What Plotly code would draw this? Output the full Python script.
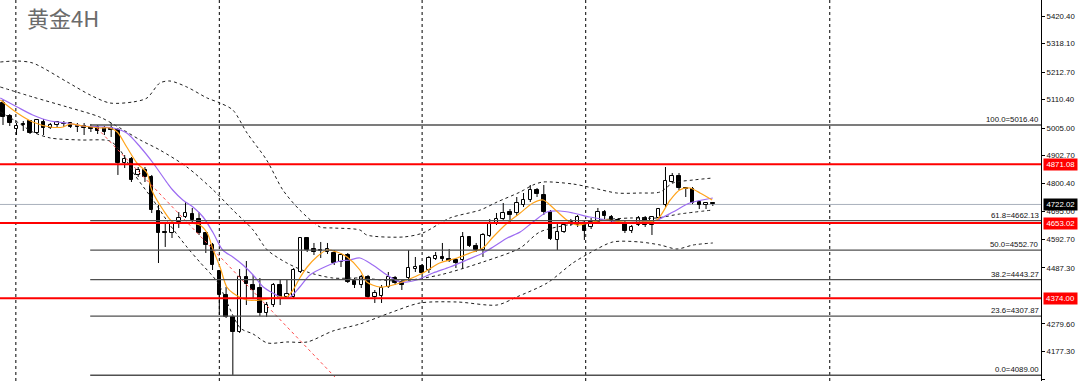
import plotly.graph_objects as go

# ---------------- data ----------------
title_text = "黄金4H"

opens = [5098.0, 5049.8, 5001.7, 5020.2, 5031.3, 4986.8, 5027.6, 5005.4, 5016.5, 5020.2,
         5023.9, 5012.8, 5012.8, 5009.1, 5009.1, 5005.4, 5005.4, 4997.9, 4875.6, 4890.5,
         4831.2, 4849.7, 4823.8, 4697.7, 4619.9, 4616.2, 4657.0, 4675.5, 4686.6, 4668.1,
         4616.2, 4571.8, 4475.4, 4386.5, 4305.0, 4249.4, 4453.2, 4423.5, 4412.4, 4319.8,
         4349.4, 4423.5, 4379.1, 4379.1, 4471.7, 4597.7, 4556.9, 4553.2, 4545.8, 4542.1,
         4508.7, 4534.7, 4438.3, 4423.5, 4453.2, 4379.1, 4382.8, 4416.1, 4449.4, 4434.6,
         4449.4, 4482.8, 4493.9, 4479.1, 4519.9, 4527.3, 4519.9, 4516.1, 4516.1, 4601.4,
         4568.1, 4553.2, 4605.1, 4653.3, 4668.1, 4694.0, 4690.3, 4720.0, 4738.5, 4775.5,
         4757.0, 4694.0, 4590.3, 4619.9, 4649.6, 4645.9, 4653.3, 4638.5, 4657.0, 4694.0,
         4675.5, 4664.4, 4653.3, 4623.6, 4645.9, 4671.8, 4645.9, 4671.8, 4720.0, 4805.2,
         4827.5, 4783.0, 4779.3, 4731.1, 4720.0, 4727.4]
highs = [5109.1, 5057.2, 5023.9, 5031.3, 5035.0, 5038.7, 5038.7, 5023.9, 5031.3, 5031.3,
         5027.6, 5023.9, 5023.9, 5020.2, 5016.5, 5012.8, 5023.9, 5005.4, 4905.3, 4897.9,
         4860.8, 4860.8, 4831.2, 4720.0, 4653.3, 4657.0, 4694.0, 4731.1, 4708.9, 4694.0,
         4619.9, 4579.2, 4479.1, 4416.1, 4307.0, 4482.8, 4512.4, 4460.6, 4449.4, 4360.5,
         4430.9, 4442.0, 4445.7, 4486.5, 4601.4, 4601.4, 4579.2, 4582.9, 4579.2, 4553.2,
         4542.1, 4542.1, 4449.4, 4460.6, 4460.6, 4405.0, 4423.5, 4471.7, 4456.9, 4442.0,
         4553.2, 4527.3, 4501.3, 4531.0, 4545.8, 4579.2, 4556.9, 4523.6, 4619.9, 4605.1,
         4579.2, 4616.2, 4668.1, 4690.3, 4727.4, 4705.1, 4749.6, 4764.4, 4794.1, 4783.0,
         4794.1, 4701.4, 4653.3, 4657.0, 4668.1, 4682.9, 4664.4, 4671.8, 4708.9, 4701.4,
         4682.9, 4671.8, 4664.4, 4645.9, 4679.2, 4679.2, 4679.2, 4708.9, 4860.8, 4838.6,
         4838.6, 4786.7, 4786.7, 4738.5, 4731.1, 4731.1]
lows = [5016.5, 5012.8, 4979.4, 4994.2, 4983.1, 4983.1, 4979.4, 5001.7, 5009.1, 5009.1,
        5005.4, 4990.5, 4979.4, 4990.5, 4983.1, 4979.4, 4972.0, 4831.2, 4857.1, 4805.2,
        4823.8, 4805.2, 4690.3, 4505.0, 4564.4, 4597.7, 4634.8, 4671.8, 4657.0, 4608.8,
        4542.1, 4479.1, 4312.4, 4301.3, 4089.0, 4245.7, 4349.4, 4375.4, 4308.7, 4305.0,
        4342.0, 4349.4, 4375.4, 4375.4, 4468.0, 4545.8, 4534.7, 4523.6, 4538.4, 4497.6,
        4490.2, 4430.9, 4412.4, 4412.4, 4375.4, 4356.8, 4356.8, 4412.4, 4423.5, 4405.0,
        4442.0, 4471.7, 4456.9, 4468.0, 4516.1, 4512.4, 4508.7, 4486.5, 4482.8, 4564.4,
        4545.8, 4527.3, 4601.4, 4645.9, 4664.4, 4657.0, 4679.2, 4712.6, 4731.1, 4749.6,
        4682.9, 4590.3, 4553.2, 4616.2, 4642.2, 4638.5, 4590.3, 4631.0, 4653.3, 4664.4,
        4657.0, 4653.3, 4616.2, 4616.2, 4642.2, 4638.5, 4608.8, 4664.4, 4712.6, 4801.5,
        4775.5, 4749.6, 4723.7, 4705.1, 4705.1, 4716.3]
closes = [5046.1, 5023.9, 5012.8, 5016.5, 4986.8, 5035.0, 5005.4, 5016.5, 5027.6, 5022.0,
          5009.1, 5010.6, 5005.4, 5001.7, 4994.2, 4990.5, 4997.9, 4875.6, 4890.5, 4812.6,
          4849.7, 4823.8, 4701.4, 4616.2, 4616.2, 4653.3, 4671.8, 4690.3, 4664.4, 4616.2,
          4571.8, 4497.6, 4386.5, 4305.0, 4249.4, 4453.2, 4427.2, 4405.0, 4319.8, 4349.4,
          4423.5, 4375.4, 4390.2, 4479.1, 4597.7, 4553.2, 4545.8, 4549.5, 4556.9, 4505.0,
          4534.7, 4434.6, 4423.5, 4453.2, 4379.1, 4393.9, 4412.4, 4453.2, 4430.9, 4423.5,
          4486.5, 4490.2, 4468.0, 4523.6, 4531.0, 4519.9, 4512.4, 4505.0, 4601.4, 4568.1,
          4553.2, 4608.8, 4653.3, 4668.1, 4690.3, 4682.9, 4727.4, 4738.5, 4775.5, 4760.7,
          4694.0, 4594.0, 4619.9, 4645.9, 4655.2, 4675.5, 4623.6, 4657.0, 4694.0, 4679.2,
          4664.4, 4660.7, 4623.6, 4638.5, 4671.8, 4645.9, 4675.5, 4705.1, 4808.9, 4827.5,
          4783.0, 4779.3, 4727.4, 4720.0, 4727.4, 4722.0]

# Bollinger bands (bar index, price)
bb_upper_x = [-0.4, 2.1, 4.4, 9.5, 12.9, 15.8, 19.2, 21.3, 23.2, 24.7, 27.2, 30.2, 32.1, 34.0,
              36.1, 39.0, 41.4, 43.9, 46.9, 48.8, 52.8, 53.8, 59.2, 62.1, 66.1, 70.6, 73.1,
              76.5, 78.4, 79.9, 84.3, 87.3, 90.8, 94.2, 97.2, 99.1, 102.1, 105.0]
bb_upper_y = [5249.9, 5253.6, 5246.2, 5175.8, 5127.6, 5098.0, 5101.7, 5116.5, 5172.1, 5179.5,
              5157.3, 5116.5, 5098.0, 5072.0, 4986.8, 4886.7, 4775.5, 4701.4, 4638.5, 4634.8,
              4627.3, 4608.8, 4601.4, 4616.2, 4671.8, 4701.4, 4731.1, 4768.1, 4794.1, 4805.2,
              4797.8, 4783.0, 4764.4, 4764.4, 4768.1, 4801.5, 4812.6, 4820.0]
bb_mid_x = [-0.4, 4.4, 9.5, 14.3, 17.3, 20.3, 23.2, 27.2, 31.1, 34.0, 37.0, 39.1, 42.0, 45.0,
            48.8, 52.8, 58.7, 64.6, 71.0, 76.5, 79.4, 84.3, 88.3, 92.8, 96.7, 100.1, 105.0]
bb_mid_y = [5157.3, 5120.2, 5083.2, 5046.1, 5005.4, 4960.9, 4923.8, 4860.8, 4775.5, 4701.4,
            4627.3, 4553.2, 4505.0, 4471.7, 4449.4, 4449.4, 4438.3, 4460.6, 4508.7, 4560.6,
            4619.9, 4649.6, 4664.4, 4671.8, 4671.8, 4686.6, 4701.4]
bb_lower_x = [-0.4, 2.1, 4.4, 7.0, 11.4, 15.8, 17.3, 19.5, 22.2, 24.7, 27.2, 29.1, 31.7, 35.1,
              37.0, 39.1, 42.0, 45.0, 48.8, 52.8, 57.2, 61.7, 67.2, 73.1, 76.0, 80.5, 84.3,
              86.8, 90.2, 94.2, 97.2, 99.7, 102.1, 105.0]
bb_lower_y = [5064.6, 5027.6, 4990.5, 4968.3, 4960.9, 4957.2, 4923.8, 4831.2, 4738.5, 4645.9,
              4564.4, 4508.7, 4434.6, 4264.1, 4241.9, 4208.6, 4212.3, 4212.3, 4253.0, 4278.9,
              4319.7, 4356.8, 4360.5, 4349.4, 4379.1, 4431.0, 4505.0, 4542.1, 4582.9, 4582.9,
              4571.8, 4556.9, 4571.8, 4579.2]

# moving averages (bar index, price)
ma_fast_x = [-0.4, 2.1, 4.4, 7.0, 8.9, 9.9, 11.8, 14.3, 15.8, 16.9, 18.3, 19.8, 21.3, 22.0,
             23.7, 25.1, 27.2, 29.1, 30.2, 31.1, 32.1, 33.1, 34.0, 36.1, 38.0, 41.0, 42.0,
             42.9, 43.9, 45.0, 46.4, 47.9, 49.4, 50.9, 52.8, 53.8, 55.8, 57.7, 59.8, 62.1,
             64.6, 67.2, 69.5, 71.0, 72.5, 74.6, 76.5, 78.4, 79.9, 81.4, 83.4, 84.9, 87.3,
             89.3, 91.7, 94.2, 96.7, 98.7, 100.1, 101.6, 103.1, 104.9]
ma_fast_y = [5109.1, 5060.9, 5027.6, 5009.1, 5009.1, 5020.2, 5012.8, 5005.4, 5005.4, 4990.5,
             4935.0, 4875.6, 4838.6, 4775.5, 4701.4, 4657.0, 4653.3, 4645.9, 4616.2, 4553.2,
             4490.2, 4416.1, 4393.9, 4367.9, 4367.9, 4379.1, 4379.1, 4405.0, 4449.4, 4490.2,
             4527.3, 4553.2, 4545.8, 4527.3, 4479.1, 4434.6, 4416.1, 4423.5, 4442.0, 4468.0,
             4505.0, 4523.6, 4545.8, 4560.6, 4601.4, 4653.3, 4690.3, 4727.4, 4738.5, 4708.9,
             4664.4, 4645.9, 4657.0, 4664.4, 4657.0, 4657.0, 4664.4, 4738.5, 4775.5, 4783.0,
             4764.4, 4738.5]
ma_slow_x = [-0.4, 2.1, 4.4, 7.0, 9.5, 11.8, 14.3, 16.3, 18.3, 20.3, 22.2, 24.3, 25.1, 26.6,
             28.1, 29.6, 31.1, 32.5, 34.0, 35.5, 37.0, 38.5, 39.9, 41.4, 42.5, 43.9, 45.4,
             47.9, 49.9, 51.3, 52.8, 54.7, 56.8, 58.7, 61.2, 63.6, 66.1, 68.6, 71.0, 72.5,
             74.6, 76.5, 78.4, 80.5, 82.4, 84.3, 86.8, 89.3, 91.7, 94.2, 96.7, 99.1, 101.6, 105.0]
ma_slow_y = [5116.5, 5083.2, 5053.5, 5031.3, 5023.9, 5012.8, 5009.1, 5005.4, 4986.8, 4934.9,
             4875.6, 4801.5, 4775.5, 4738.5, 4712.6, 4675.5, 4616.2, 4553.2, 4527.3, 4497.6,
             4460.6, 4416.1, 4393.9, 4375.4, 4379.1, 4416.1, 4460.6, 4493.9, 4512.4, 4516.1,
             4523.6, 4497.6, 4460.6, 4434.6, 4442.0, 4468.0, 4490.2, 4516.1, 4542.1, 4564.4,
             4597.7, 4619.9, 4657.0, 4694.0, 4697.7, 4690.3, 4675.5, 4664.4, 4653.3, 4657.0,
             4664.4, 4694.0, 4727.4, 4745.9]

# drawn objects
trend_x = [13.9, 49.1]
trend_y = [5005.3, 4082.5]
red_levels = [4871.08, 4653.02, 4374.00]
bid_price = 4722.02
fib_anchor_index = 12.9
fib_pcts = ["100.0", "61.8", "50.0", "38.2", "23.6", "0.0"]
fib_values = [5016.40, 4662.13, 4552.70, 4443.27, 4307.87, 4089.00]

# price axis
tick_values = [5420.40, 5318.10, 5212.70, 5110.40, 5005.00, 4902.70, 4800.40, 4695.00,
               4592.70, 4487.30, 4279.60, 4177.30, 4075.00]
tick_labels = [f"{v:.2f}" for v in tick_values]

grid_x = [1.9, 32.0, 62.0, 86.2, 122.3]

# ---------------- figure ----------------
X_MIN, X_MAX = -0.444, 153.55
Y_MIN, Y_MAX = 4067.7, 5479.7

n = len(opens)
idx = list(range(n))
body_base = [min(o, c) for o, c in zip(opens, closes)]
body_h = [abs(c - o) for o, c in zip(opens, closes)]
body_col = ["white" if c >= o else "black" for o, c in zip(opens, closes)]

wx, wy = [], []
for i, o, h, l, c in zip(idx, opens, highs, lows, closes):
    top, bot = max(o, c), min(o, c)
    wx += [i, i, None, i, i, None]
    wy += [h, top, None, bot, l, None]

fig = go.Figure()
fig.add_trace(go.Bar(x=idx, y=body_h, base=body_base, width=0.52,
                     marker=dict(color=body_col, line=dict(color="black", width=1)),
                     hoverinfo="skip", showlegend=False))
fig.add_trace(go.Scatter(x=wx, y=wy, mode="lines", line=dict(color="black", width=1),
                         hoverinfo="skip", showlegend=False))

band_style = dict(color="#1e1e1e", width=1, dash="3px,3px", shape="spline", smoothing=0.8)
for bx, by in [(bb_upper_x, bb_upper_y), (bb_mid_x, bb_mid_y), (bb_lower_x, bb_lower_y)]:
    fig.add_trace(go.Scatter(x=bx, y=by, mode="lines", line=band_style,
                             hoverinfo="skip", showlegend=False))

fig.add_trace(go.Scatter(x=ma_slow_x, y=ma_slow_y, mode="lines",
                         line=dict(color="#9d6cf2", width=1.2, shape="spline", smoothing=0.8),
                         hoverinfo="skip", showlegend=False))
fig.add_trace(go.Scatter(x=ma_fast_x, y=ma_fast_y, mode="lines",
                         line=dict(color="#ffa31a", width=1.2, shape="spline", smoothing=0.8),
                         hoverinfo="skip", showlegend=False))
fig.add_trace(go.Scatter(x=trend_x, y=trend_y, mode="lines",
                         line=dict(color="#ff4a4a", width=1, dash="3px,3px"),
                         hoverinfo="skip", showlegend=False))

shapes = []
for gx in grid_x:
    shapes.append(dict(type="line", xref="x", yref="paper", x0=gx, x1=gx, y0=0, y1=1,
                       line=dict(color="#000000", width=1, dash="3px,3px"), layer="below"))
shapes.append(dict(type="line", xref="x", yref="y", x0=X_MIN, x1=X_MAX, y0=bid_price,
                   y1=bid_price, line=dict(color="#a8b0bc", width=1), layer="below"))
for fv in fib_values:
    shapes.append(dict(type="line", xref="x", yref="y", x0=fib_anchor_index, x1=X_MAX,
                       y0=fv, y1=fv, line=dict(color="#505050", width=1.3), layer="above"))
for rv in red_levels:
    shapes.append(dict(type="line", xref="x", yref="y", x0=X_MIN, x1=X_MAX, y0=rv, y1=rv,
                       line=dict(color="#ff0000", width=2), layer="above"))

label_font = dict(family="Liberation Sans, Arial, sans-serif", size=7.8, color="#111111")
annotations = [dict(text=title_text, xref="paper", yref="paper", x=0, y=1, xanchor="left",
                    yanchor="top", xshift=25, yshift=1, showarrow=False,
                    font=dict(family="Noto Sans CJK SC", size=22, color="#6b6b6b"))]
for pct, fv in zip(fib_pcts, fib_values):
    annotations.append(dict(text=f"{pct}={fv:.2f}", xref="paper", yref="y", x=1, y=fv,
                            xanchor="right", yanchor="bottom", xshift=-1, yshift=0,
                            showarrow=False, font=label_font, borderpad=0))
for rv in red_levels:
    annotations.append(dict(text=f"{rv:.2f}", xref="paper", yref="y", x=1, y=rv,
                            xanchor="left", yanchor="middle", xshift=2, showarrow=False,
                            bgcolor="#ff0000", width=31, height=9, borderpad=1,
                            font=dict(family="Liberation Sans, Arial, sans-serif", size=7.8,
                                      color="white")))
annotations.append(dict(text=f"{bid_price:.2f}", xref="paper", yref="y", x=1, y=bid_price,
                        xanchor="left", yanchor="middle", xshift=2, showarrow=False,
                        bgcolor="#000000", width=31, height=9, borderpad=1,
                        font=dict(family="Liberation Sans, Arial, sans-serif", size=7.8,
                                  color="white")))

fig.update_layout(
    width=1080, height=381,
    margin=dict(l=0, r=39, t=0, b=0),
    paper_bgcolor="white", plot_bgcolor="white",
    showlegend=False, bargap=0,
    shapes=shapes, annotations=annotations,
    xaxis=dict(range=[X_MIN, X_MAX], visible=False, showgrid=False, zeroline=False),
    yaxis=dict(range=[Y_MIN, Y_MAX], side="right", showgrid=False, zeroline=False,
               showline=True, linecolor="#000000", linewidth=1, ticks="outside",
               ticklen=3, tickcolor="#000000", tickvals=tick_values, ticktext=tick_labels,
               tickfont=label_font, automargin=False),
)

fig.write_html("out.html")
